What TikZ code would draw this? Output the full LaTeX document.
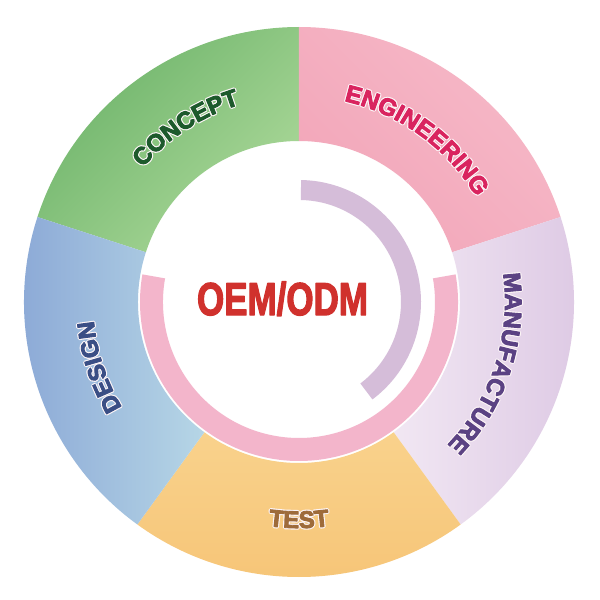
\documentclass[tikz,border=0pt]{standalone}
\usepackage{fontspec}
\setmainfont{Liberation Sans}
\usetikzlibrary{decorations.text}
\definecolor{gDark}{HTML}{6CB369}
\definecolor{gLight}{HTML}{ABD899}
\definecolor{pDark}{HTML}{F2A6B9}
\definecolor{pLight}{HTML}{F6B9C8}
\definecolor{lDark}{HTML}{DCC7E3}
\definecolor{lLight}{HTML}{F1E7F3}
\definecolor{oDark}{HTML}{F6C476}
\definecolor{oLight}{HTML}{F9D28C}
\definecolor{bDark}{HTML}{88A5D5}
\definecolor{bLight}{HTML}{B6D6E6}
\definecolor{ringPink}{HTML}{F3B5CB}
\definecolor{ringLav}{HTML}{D5BDD9}
\definecolor{tConcept}{HTML}{1D5A2C}
\definecolor{tEng}{HTML}{D9245F}
\definecolor{tMan}{HTML}{5B4283}
\definecolor{tTest}{HTML}{9E6B3A}
\definecolor{tDesign}{HTML}{3A4E85}
\definecolor{tCenter}{HTML}{D0312D}
\definecolor{haloCol}{HTML}{FCF4F6}
\newcommand{\heavyon}[1]{\special{pdf:literal direct 2 Tr #1 w 1 j}}
\newcommand{\labelfont}{\fontsize{24}{24}\selectfont\bfseries\heavyon{0.9}}
\newcommand{\halofont}{\fontsize{24}{24}\selectfont\bfseries\heavyon{3.2}}
\tikzset{
  ringtext/.style 2 args={decorate, decoration={text along path, text align=center, text color=#1, text={|\labelfont|#2}}},
  ringhalo/.style={decorate, decoration={text along path, text align=center, text color=haloCol, text={|\halofont|#1}}}
}
\begin{document}
\begin{tikzpicture}[x=1pt,y=1pt]
\useasboundingbox (-299,-298) rectangle (301,302);
\fill[white] (-299,-298) rectangle (301,302);
\def\Ro{275pt}
\def\Ri{161pt}
% segments
\path[top color=gDark, bottom color=gLight, shading angle=45]
  (90:\Ri) arc[start angle=90, end angle=162, radius=\Ri] -- (162:\Ro) arc[start angle=162, end angle=90, radius=\Ro] -- cycle;
\path[top color=pLight, bottom color=pDark, shading angle=-45]
  (18:\Ri) arc[start angle=18, end angle=90, radius=\Ri] -- (90:\Ro) arc[start angle=90, end angle=18, radius=\Ro] -- cycle;
\path[top color=lDark, bottom color=lLight, shading angle=-90]
  (-54:\Ri) arc[start angle=-54, end angle=18, radius=\Ri] -- (18:\Ro) arc[start angle=18, end angle=-54, radius=\Ro] -- cycle;
\path[top color=oLight, bottom color=oDark]
  (234:\Ri) arc[start angle=234, end angle=306, radius=\Ri] -- (306:\Ro) arc[start angle=306, end angle=234, radius=\Ro] -- cycle;
\path[top color=bDark, bottom color=bLight, shading angle=90]
  (162:\Ri) arc[start angle=162, end angle=234, radius=\Ri] -- (234:\Ro) arc[start angle=234, end angle=162, radius=\Ro] -- cycle;
% inner rings
\fill[ringPink] (170:136pt) arc[start angle=170, end angle=370, radius=136pt] -- (370:159pt) arc[start angle=370, end angle=170, radius=159pt] -- cycle;
\fill[ringLav] (89:102pt) arc[start angle=89, end angle=-53, radius=102pt] -- (-53:122pt) arc[start angle=-53, end angle=89, radius=122pt] -- cycle;
% curved labels: light outline behind, coloured letters on top
\path[ringhalo={CONCEPT}] (183:206pt) arc[start angle=183, end angle=63, radius=206pt];
\path[ringtext={tConcept}{CONCEPT}] (183:206pt) arc[start angle=183, end angle=63, radius=206pt];
\path[ringhalo={ENGINEERING}] (114:206pt) arc[start angle=114, end angle=-6, radius=206pt];
\path[ringtext={tEng}{ENGINEERING}] (114:206pt) arc[start angle=114, end angle=-6, radius=206pt];
\path[ringhalo={MANUFACTURE}] (42:206pt) arc[start angle=42, end angle=-78, radius=206pt];
\path[ringtext={tMan}{MANUFACTURE}] (42:206pt) arc[start angle=42, end angle=-78, radius=206pt];
\path[ringhalo={TEST}] (210:226pt) arc[start angle=210, end angle=330, radius=226pt];
\path[ringtext={tTest}{TEST}] (210:226pt) arc[start angle=210, end angle=330, radius=226pt];
\path[ringhalo={DESIGN}] (258:206pt) arc[start angle=258, end angle=138, radius=206pt];
\path[ringtext={tDesign}{DESIGN}] (258:206pt) arc[start angle=258, end angle=138, radius=206pt];
% centre title
\node[anchor=base, inner sep=0pt, text=tCenter] (center) at (-16.5,-13)
  {\scalebox{0.76}[1]{\fontsize{46}{46}\selectfont\bfseries\heavyon{1.4}OEM/ODM}};
\end{tikzpicture}
\end{document}
